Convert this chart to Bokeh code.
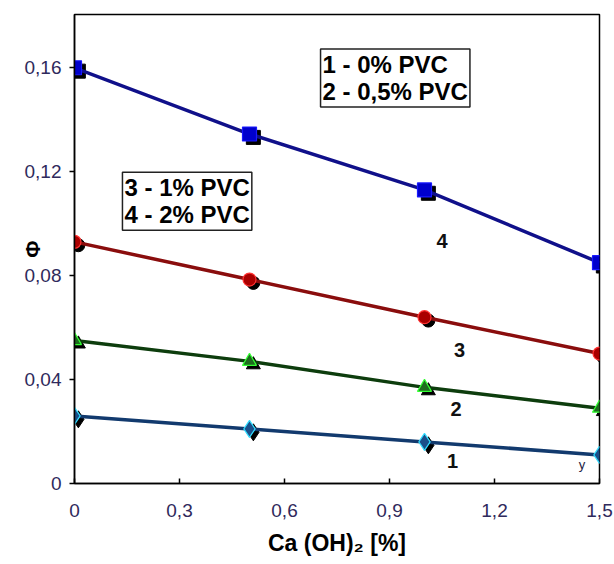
from bokeh.plotting import figure
from bokeh.models import Range1d, Label, CustomJSTickFormatter, FixedTicker
from bokeh.core.properties import value
from bokeh.embed import file_html
from bokeh.resources import INLINE

# data
ca_oh2 = [0.0, 0.5, 1.0, 1.5]
s1_0pvc = [0.026, 0.021, 0.016, 0.011]
s2_05pvc = [0.055, 0.047, 0.037, 0.029]
s3_1pvc = [0.093, 0.0785, 0.064, 0.050]
s4_2pvc = [0.160, 0.1345, 0.113, 0.085]
series_labels = ["1", "2", "3", "4"]
label_x = [1.08, 1.09, 1.10, 1.05]
label_y = [0.0088, 0.0288, 0.0515, 0.0935]
x_ticks = [0, 0.3, 0.6, 0.9, 1.2, 1.5]
y_ticks = [0, 0.04, 0.08, 0.12, 0.16]
legend_a = "1 - 0% PVC\n2 - 0,5% PVC"
legend_b = "3 - 1% PVC\n4 - 2% PVC"

FONT = "Liberation Sans"
TICK_COL = "#2f2a5c"

p = figure(width=614, height=564, output_backend="svg", toolbar_location=None,
           x_range=Range1d(0, 1.5), y_range=Range1d(0, 0.1805),
           min_border_left=74, min_border_right=15, min_border_top=14, min_border_bottom=81)
p.xgrid.visible = False
p.ygrid.visible = False
p.outline_line_color = "black"
p.outline_line_width = 1.5
p.background_fill_color = "white"
p.border_fill_color = "white"

# shifted ranges to draw the black shadow markers a few pixels down-right
p.extra_x_ranges = {"sh": Range1d(-0.011, 1.489)}
p.extra_y_ranges = {"sh": Range1d(0.0013, 0.1818)}

styles = [
    (s1_0pvc, "#123a6e", "diamond", "#1a4f8a", "#33ddff", 17),
    (s2_05pvc, "#0d3d0d", "triangle", "#1f6b1f", "#33ff33", 14),
    (s3_1pvc, "#8a0d0d", "circle", "#aa0000", "#ff3333", 13),
    (s4_2pvc, "#10108a", "square", "#0000cc", "#1a1aff", 14),
]

for ys, lc, mk, fc, oc, sz in styles:
    p.scatter(ca_oh2, ys, marker=mk, size=sz, fill_color="black", line_color="black",
              x_range_name="sh", y_range_name="sh")
for ys, lc, mk, fc, oc, sz in styles:
    p.line(ca_oh2, ys, line_color=lc, line_width=3.5)
    p.scatter(ca_oh2, ys, marker=mk, size=sz, fill_color=fc, line_color=oc, line_width=1.2)

p.text(label_x, label_y, text=series_labels, text_font=value(FONT), text_font_size="20px",
       text_font_style="bold", text_color="#111111", text_align="center", text_baseline="middle")
p.text([1.45], [0.0075], text=["y"], text_font=value(FONT), text_font_size="13px",
       text_color="#222244", text_align="center", text_baseline="middle")

for txt, lx, ly in [(legend_a, 0.703, 0.1672), (legend_b, 0.137, 0.1198)]:
    p.add_layout(Label(x=lx, y=ly, text=txt, text_font=FONT, text_font_size="24px",
                       text_font_style="bold", text_color="black", anchor="top_left",
                       text_line_height=1.0,
                       border_line_color="#222222", border_line_width=1.5,
                       background_fill_color="white", padding=2))

fmt = CustomJSTickFormatter(code="""
if (tick === 0) return '0';
var s = tick.toFixed(2);
if (Math.abs(tick*10 - Math.round(tick*10)) < 1e-9) s = tick.toFixed(1);
return s.replace('.', ',');
""")
p.xaxis.ticker = FixedTicker(ticks=x_ticks)
p.yaxis.ticker = FixedTicker(ticks=y_ticks)
p.xaxis.formatter = fmt
p.yaxis.formatter = fmt
for ax in (p.xaxis, p.yaxis):
    ax.axis_line_color = "black"
    ax.axis_line_width = 1.5
    ax.major_tick_line_color = "black"
    ax.major_tick_line_width = 1.5
    ax.minor_tick_line_color = None
    ax.major_label_text_font = FONT
    ax.major_label_text_font_size = "19px"
    ax.major_label_text_color = TICK_COL
    ax.axis_label_text_font = FONT
    ax.axis_label_text_font_style = "bold"
    ax.axis_label_text_color = "black"
p.xaxis.major_tick_in = 5
p.xaxis.major_tick_out = 0
p.xaxis.major_label_standoff = 20
p.yaxis.major_tick_in = 0
p.yaxis.major_tick_out = 5
p.yaxis.major_label_standoff = 8
p.xaxis.axis_label = "Ca (OH)₂ [%]"
p.xaxis.axis_label_text_font_size = "23px"
p.xaxis.axis_label_standoff = 10
p.yaxis.axis_label = "Φ"
p.yaxis.axis_label_text_font_size = "21px"
p.yaxis.axis_label_standoff = -22

open("out.html", "w").write(file_html(p, INLINE))
